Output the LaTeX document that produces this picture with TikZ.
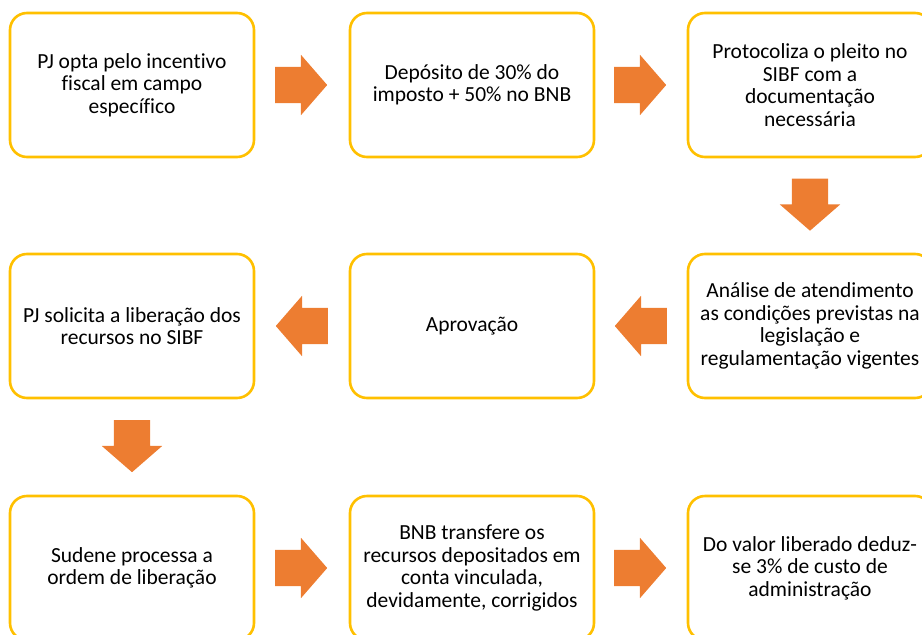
\documentclass[tikz,border=0pt]{standalone}
\usepackage{fontspec}
\setmainfont[Ligatures=NoCommon]{Carlito}
\usetikzlibrary{shapes.arrows,calc}
\definecolor{boxgold}{HTML}{FFC000}
\definecolor{arrorange}{HTML}{ED7D31}
\tikzset{
  stepbox/.style={draw=boxgold, line width=2.6pt, rounded corners=17pt, fill=white,
    minimum width=244pt, minimum height=144pt, align=center, inner sep=2pt,
    font=\fontsize{21.5pt}{22.5pt}\selectfont, text=black},
  blockarrow/.style={single arrow, fill=arrorange, draw=none, inner xsep=0pt, inner ysep=18pt,
    minimum height=52pt, single arrow head extend=12pt,
    single arrow tip angle=98, anchor=tail}
}
\begin{document}
\begin{tikzpicture}[x=1pt,y=-1pt]
\useasboundingbox (0,0) rectangle (922,635);
\node[stepbox] (b1) at (132,85) {PJ opta pelo incentivo\\fiscal em campo\\específico};
\node[stepbox] (b2) at (472,85) {Depósito de 30\% do\\imposto + 50\% no BNB};
\node[stepbox] (b3) at (810,85) {Protocoliza o pleito no\\SIBF com a\\documentação\\necessária};
\node[stepbox] (b4) at (810,326) {Análise de atendimento\\as condições previstas na\\legislação e\\regulamentação vigentes};
\node[stepbox] (b5) at (472,326) {Aprovação};
\node[stepbox] (b6) at (132,326) {PJ solicita a liberação dos\\recursos no SIBF};
\node[stepbox] (b7) at (132,568) {Sudene processa a\\ordem de liberação};
\node[stepbox] (b8) at (472,568) {BNB transfere os\\recursos depositados em\\conta vinculada,\\devidamente, corrigidos};
\node[stepbox] (b9) at (810,568) {Do valor liberado deduz-\\se 3\% de custo de\\administração};
\node[blockarrow] (a12) at ($(b1.east)!0.5!(b2.west)+(-27,0)$) {};
\node[blockarrow] (a23) at ($(b2.east)!0.5!(b3.west)+(-27,0)$) {};
\node[blockarrow, rotate=-90] (a34) at ($(b3.south)!0.5!(b4.north)+(0,-27)$) {};
\node[blockarrow, shape border rotate=180] (a45) at ($(b4.west)!0.5!(b5.east)+(26,0)$) {};
\node[blockarrow, shape border rotate=180] (a56) at ($(b5.west)!0.5!(b6.east)+(26,0)$) {};
\node[blockarrow, rotate=-90] (a67) at ($(b6.south)!0.5!(b7.north)+(0,-27)$) {};
\node[blockarrow] (a78) at ($(b7.east)!0.5!(b8.west)+(-27,0)$) {};
\node[blockarrow] (a89) at ($(b8.east)!0.5!(b9.west)+(-27,0)$) {};
\end{tikzpicture}
\end{document}
